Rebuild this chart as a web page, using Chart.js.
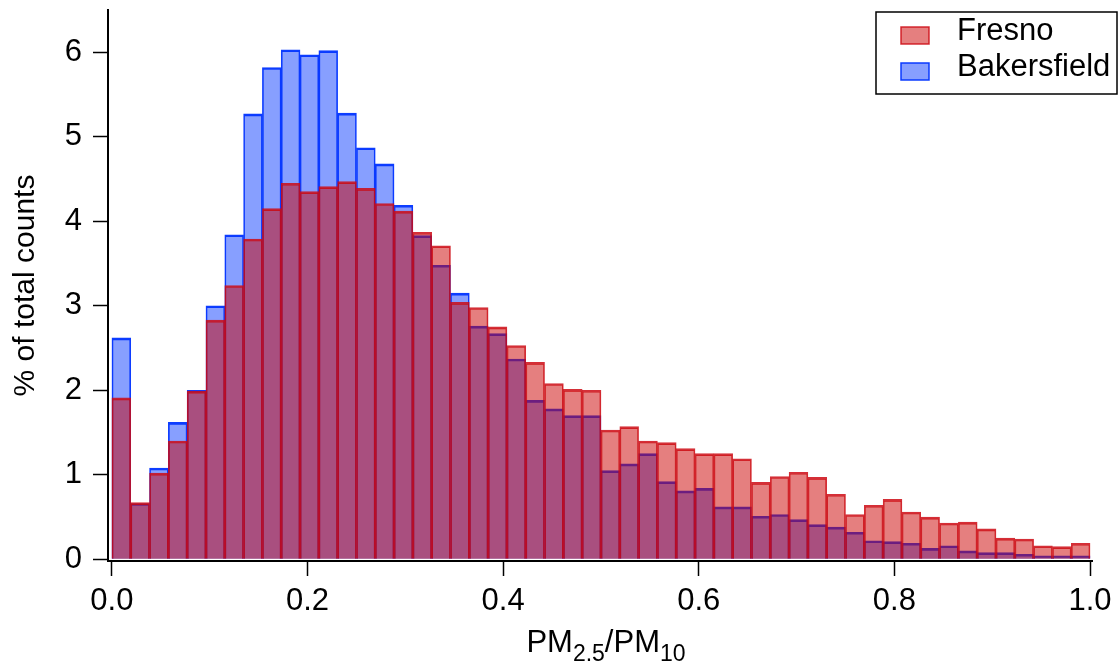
<!DOCTYPE html>
<html>
<head>
<meta charset="utf-8">
<script src="https://cdn.jsdelivr.net/npm/chart.js@4.4.1/dist/chart.umd.min.js"></script>
<style>
  html, body { margin: 0; padding: 0; background: #fff; }
  #wrap { width: 1119px; height: 663px; }
</style>
</head>
<body>
<div id="wrap"><canvas id="histChart"></canvas></div>
<script>
// 52 bins between 0 and 1 (PM2.5/PM10 ratio)
const nBins = 52;
const seriesLabels = ['Fresno', 'Bakersfield'];

// % of total counts
const fresno = [
  1.91, 0.67, 1.02, 1.40, 1.99, 2.83, 3.24, 3.79, 4.15, 4.45,
  4.35, 4.41, 4.47, 4.39, 4.21, 4.12, 3.87, 3.71, 3.04, 2.98,
  2.75, 2.53, 2.33, 2.08, 2.01, 2.00, 1.53, 1.57, 1.40, 1.38,
  1.31, 1.25, 1.25, 1.19, 0.91, 0.98, 1.03, 0.97, 0.77, 0.53,
  0.64, 0.71, 0.56, 0.50, 0.43, 0.44, 0.36, 0.25, 0.24, 0.16,
  0.15, 0.19
];
const bakersfield = [
  2.62, 0.66, 1.08, 1.62, 2.00, 3.00, 3.84, 5.27, 5.82, 6.03,
  5.97, 6.02, 5.28, 4.87, 4.68, 4.19, 3.83, 3.48, 3.15, 2.76,
  2.67, 2.37, 1.88, 1.78, 1.70, 1.70, 1.05, 1.13, 1.25, 0.92,
  0.81, 0.84, 0.62, 0.62, 0.51, 0.53, 0.47, 0.41, 0.38, 0.32,
  0.22, 0.21, 0.19, 0.13, 0.16, 0.10, 0.08, 0.08, 0.06, 0.04,
  0.04, 0.04
];

const xTicks = [0, 0.2, 0.4, 0.6, 0.8, 1.0];
const yTicks = [0, 1, 2, 3, 4, 5, 6];

const binCenters = Array.from({length: nBins}, (_, i) => (i + 0.5) / nBins);

const fontFamily = '"Liberation Sans", Arial, sans-serif';
Chart.defaults.font.family = fontFamily;
Chart.defaults.color = '#000';

// x axis title with subscripts
const xTitlePlugin = {
  id: 'xTitle',
  afterDraw(chart) {
    const ctx = chart.ctx;
    const parts = [['PM', 31, 0], ['2.5', 23, 9], ['/PM', 31, 0], ['10', 23, 9]];
    ctx.save();
    ctx.fillStyle = '#000';
    ctx.textBaseline = 'alphabetic';
    let total = 0;
    parts.forEach(p => {
      ctx.font = p[1] + 'px ' + fontFamily;
      total += ctx.measureText(p[0]).width;
    });
    let x = chart.scales.x.getPixelForValue(0.5) - total / 2 + 5;
    const base = chart.chartArea.bottom + 91;
    parts.forEach(p => {
      ctx.font = p[1] + 'px ' + fontFamily;
      ctx.fillText(p[0], x, base + p[2]);
      x += ctx.measureText(p[0]).width;
    });
    ctx.restore();
  }
};

// boxed legend in the top right corner
const boxLegend = {
  id: 'boxLegend',
  afterDraw(chart) {
    const ctx = chart.ctx;
    ctx.save();
    ctx.fillStyle = '#fff';
    ctx.fillRect(876, 12, 241, 82);
    ctx.lineWidth = 1.5;
    ctx.strokeStyle = '#000';
    ctx.strokeRect(876, 12, 241, 82);
    chart.data.datasets.forEach((ds, i) => {
      const sy = 27 + i * 36;
      ctx.fillStyle = ds.backgroundColor;
      ctx.fillRect(901, sy, 28, 17);
      ctx.strokeStyle = ds.borderColor;
      ctx.lineWidth = 1.5;
      ctx.strokeRect(901, sy, 28, 17);
      ctx.fillStyle = '#000';
      ctx.font = '31px ' + fontFamily;
      ctx.textBaseline = 'middle';
      ctx.fillText(ds.label, 957, 31 + i * 36);
    });
    ctx.restore();
  }
};

const axisGrid = {
  display: true,
  drawOnChartArea: false,
  drawTicks: true,
  tickLength: 15,
  tickWidth: 1.5,
  tickColor: '#000',
  offset: false
};

new Chart(document.getElementById('histChart'), {
  type: 'bar',
  data: {
    datasets: [{
      label: seriesLabels[0],
      data: binCenters.map((x, i) => ({x: x, y: fresno[i]})),
      backgroundColor: 'rgba(204, 0, 0, 0.5)',
      borderColor: 'rgba(205, 10, 20, 0.85)',
      borderWidth: {top: 2, left: 1, right: 1, bottom: 0},
      grouped: false,
      barPercentage: 1,
      categoryPercentage: 1
    }, {
      label: seriesLabels[1],
      data: binCenters.map((x, i) => ({x: x, y: bakersfield[i]})),
      backgroundColor: 'rgba(0, 51, 255, 0.47)',
      borderColor: 'rgba(0, 51, 255, 0.95)',
      borderWidth: {top: 2, left: 1, right: 1, bottom: 0},
      grouped: false,
      barPercentage: 1,
      categoryPercentage: 1
    }]
  },
  options: {
    responsive: true,
    maintainAspectRatio: false,
    animation: false,
    layout: { padding: {top: 10, right: 27, left: 0, bottom: 0} },
    plugins: {
      legend: { display: false },
      tooltip: { enabled: true }
    },
    scales: {
      x: {
        type: 'linear',
        min: -0.004,
        max: 1.002,
        offset: false,
        afterBuildTicks: s => { s.ticks = xTicks.map(v => ({value: v})); },
        afterFit: s => {
          s.height = 102;
          s.paddingLeft = 0; s.paddingRight = 0;
        },
        grid: axisGrid,
        border: { display: true, color: '#000', width: 2 },
        ticks: {
          padding: 7,
          autoSkip: false,
          maxRotation: 0,
          font: { size: 31 },
          color: '#000',
          callback: v => v.toFixed(1)
        }
      },
      y: {
        min: -0.02,
        max: 6.5,
        afterBuildTicks: s => { s.ticks = yTicks.map(v => ({value: v})); },
        afterFit: s => {
          s.width = 108;
          s.paddingTop = 0; s.paddingBottom = 0;
        },
        grid: axisGrid,
        border: { display: true, color: '#000', width: 2 },
        ticks: {
          padding: 11,
          autoSkip: false,
          font: { size: 31 },
          color: '#000'
        },
        title: {
          display: true,
          text: '% of total counts',
          font: { size: 30 },
          color: '#000',
          padding: {top: 8, bottom: 0}
        }
      }
    }
  },
  plugins: [xTitlePlugin, boxLegend]
});
</script>
</body>
</html>
